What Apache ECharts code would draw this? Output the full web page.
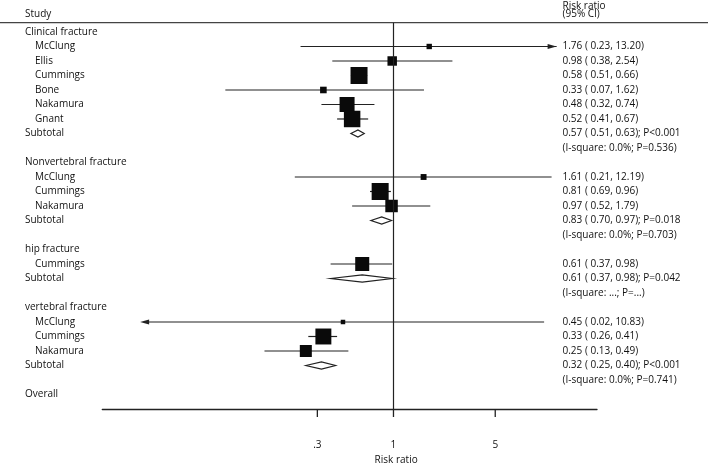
<!DOCTYPE html>
<html><head><meta charset="utf-8">
<script src="https://cdn.jsdelivr.net/npm/echarts@6/dist/echarts.min.js"></script>
<style>html,body{margin:0;padding:0;background:#fff}#c{width:708px;height:463px}</style>
</head><body><div id="c"></div>
<script>
// ---- data ----
const groupNames = ['Clinical fracture', 'Nonvertebral fracture', 'hip fracture', 'vertebral fracture'];
const studyGroup = [0, 0, 0, 0, 0, 0, 1, 1, 1, 2, 3, 3, 3];
const studyNames = ['McClung', 'Ellis', 'Cummings', 'Bone', 'Nakamura', 'Gnant', 'McClung', 'Cummings', 'Nakamura', 'Cummings', 'McClung', 'Cummings', 'Nakamura'];
const studyRR = [1.76, 0.98, 0.58, 0.33, 0.48, 0.52, 1.61, 0.81, 0.97, 0.61, 0.45, 0.33, 0.25];
const studyLo = [0.23, 0.38, 0.51, 0.07, 0.32, 0.41, 0.21, 0.69, 0.52, 0.37, 0.02, 0.26, 0.13];
const studyHi = [13.20, 2.54, 0.66, 1.62, 0.74, 0.67, 12.19, 0.96, 1.79, 0.98, 10.83, 0.41, 0.49];
const studyWeight = [10, 31, 100, 15, 78, 94, 12, 100, 54, 68, 7, 88, 50];
const subRR = [0.57, 0.83, 0.61, 0.32];
const subLo = [0.51, 0.70, 0.37, 0.25];
const subHi = [0.63, 0.97, 0.98, 0.40];
const subP = ['P<0.001', 'P=0.018', 'P=0.042', 'P<0.001'];
const subHet = ['(I-square: 0.0%; P=0.536)', '(I-square: 0.0%; P=0.703)', '(I-square: ...; P=...)', '(I-square: 0.0%; P=0.741)'];
const tickValues = [0.3, 1, 5];
const tickLabels = ['.3', '1', '5'];
const axisMin = 0.01, axisMax = 25;

// ---- build rows ----
const f2 = v => v.toFixed(2);
const rows = [];
let r = 0;
groupNames.forEach((g, gi) => {
  rows.push({row: r++, kind: 'group', label: g});
  studyNames.forEach((n, i) => {
    if (studyGroup[i] !== gi) return;
    rows.push({row: r++, kind: 'study', label: n, rr: studyRR[i], lo: studyLo[i], hi: studyHi[i], w: studyWeight[i],
      text: f2(studyRR[i]) + ' ( ' + f2(studyLo[i]) + ', ' + f2(studyHi[i]) + ')'});
  });
  rows.push({row: r, kind: 'sub', label: 'Subtotal', rr: subRR[gi], lo: subLo[gi], hi: subHi[gi],
    text: f2(subRR[gi]) + ' ( ' + f2(subLo[gi]) + ', ' + f2(subHi[gi]) + '); ' + subP[gi], het: subHet[gi]});
  r += 2;
});
rows.push({row: r, kind: 'overall', label: 'Overall'});
const lastRow = r + 1;

const FONT = '"Open Sans", "Liberation Sans", sans-serif';
const TXT = '#111';
const LINE = '#222';
const leftGroupX = 25, leftStudyX = 35, rightX = 562.5;
const logTicks = tickValues.map(v => Math.log(v));

function txt(x, y, s, extra) {
  return {type: 'text', style: Object.assign({x: x, y: y, text: s, fill: TXT, fontSize: 10, fontFamily: FONT, verticalAlign: 'middle', align: 'left'}, extra || {})};
}

function renderItem(params, api) {
  const d = rows[params.dataIndex];
  const y = api.coord([0, d.row])[1];
  const children = [];
  if (d.kind === 'head') {
    children.push(txt(leftGroupX, api.coord([0, -1.22])[1], 'Study'));
    children.push(txt(rightX, api.coord([0, -1.81])[1], 'Risk ratio'));
    children.push(txt(rightX, api.coord([0, -1.22])[1], '(95% CI)'));
    // axis ticks (downward) at the tick values
    const yb = api.coord([0, lastRow])[1];
    logTicks.forEach(t => {
      const xt = api.coord([t, lastRow])[0];
      children.push({type: 'line', shape: {x1: xt, y1: yb, x2: xt, y2: yb + 8}, style: {stroke: LINE, lineWidth: 1.3}});
    });
    return {type: 'group', children};
  }
  if (d.kind === 'group' || d.kind === 'overall') {
    children.push(txt(leftGroupX, y, d.label));
    return {type: 'group', children};
  }
  const xr = api.coord([Math.log(d.rr), d.row])[0];
  const xl = api.coord([Math.log(d.lo), d.row])[0];
  const xh = api.coord([Math.log(d.hi), d.row])[0];
  if (d.kind === 'study') {
    children.push(txt(leftStudyX, y, d.label));
    children.push({type: 'line', shape: {x1: xl, y1: y, x2: xh, y2: y}, style: {stroke: LINE, lineWidth: 1.2}});
    if (d.hi > 13) {
      children.push({type: 'polygon', shape: {points: [[xh, y], [xh - 9, y - 2.6], [xh - 9, y + 2.6]]}, style: {fill: LINE}});
    }
    if (d.lo <= 0.02) {
      children.push({type: 'polygon', shape: {points: [[xl - 6, y], [xl + 3, y - 2.6], [xl + 3, y + 2.6]]}, style: {fill: LINE}});
    }
    const s = 1.7 * Math.sqrt(d.w);
    children.push({type: 'rect', shape: {x: xr - s / 2, y: y - s / 2, width: s, height: s}, style: {fill: '#0a0a0a'}});
    children.push(txt(rightX, y, d.text));
  } else {
    children.push(txt(leftGroupX, y, d.label));
    children.push({type: 'polygon', shape: {points: [[xl, y], [xr, y - 3.6], [xh, y], [xr, y + 3.6]]}, style: {fill: '#fff', stroke: LINE, lineWidth: 1.2}});
    children.push(txt(rightX, y, d.text));
    children.push(txt(rightX, api.coord([0, d.row + 1])[1], d.het));
  }
  return {type: 'group', children};
}

const seriesData = rows.map(d => [0, d.row]);
rows.push({row: 0, kind: 'head'});
seriesData.push([0, 0]);

const chart = echarts.init(document.getElementById('c'), null, {renderer: 'canvas'});
chart.setOption({
  animation: false,
  backgroundColor: '#fff',
  grid: {left: 102.3, right: 111, top: 22.7, bottom: 54, containLabel: false, outerBoundsMode: 'none'},
  xAxis: {
    type: 'value', position: 'bottom', min: Math.log(axisMin), max: Math.log(axisMax),
    axisLine: {show: true, onZero: false, lineStyle: {color: LINE, width: 1.3}},
    axisTick: {show: false},
    axisLabel: {customValues: logTicks, margin: 31, fontSize: 10, fontFamily: FONT, color: TXT,
      formatter: v => { let k = 0, b = 1e9; logTicks.forEach((t, i) => { if (Math.abs(t - v) < b) { b = Math.abs(t - v); k = i; } }); return tickLabels[k]; }},
    splitLine: {show: false},
    name: 'Risk ratio', nameLocation: 'middle', nameGap: 46,
    nameTextStyle: {fontSize: 10, fontFamily: FONT, color: TXT, padding: [0, 0, 0, 93]}
  },
  yAxis: {type: 'value', inverse: true, min: -0.64, max: lastRow, show: false, splitLine: {show: false}},
  graphic: [{type: 'line', shape: {x1: 0, y1: 22.7, x2: 708, y2: 22.7}, style: {stroke: '#444', lineWidth: 1.3}}],
  series: [{
    type: 'custom', clip: false, renderItem: renderItem, data: seriesData, silent: true,
    markLine: {silent: true, symbol: 'none', label: {show: false}, lineStyle: {color: LINE, width: 1.2, type: 'solid'},
      data: [{xAxis: 0}]}
  }]
});
</script></body></html>
